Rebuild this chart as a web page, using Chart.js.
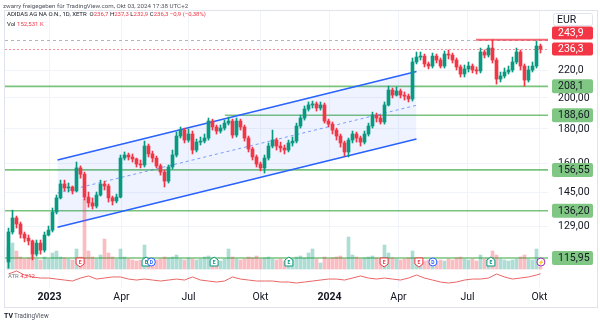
<!DOCTYPE html>
<html>
<head>
<meta charset="utf-8">
<script src="https://cdn.jsdelivr.net/npm/chart.js@4.4.1/dist/chart.umd.min.js"></script>
<style>
  html, body { margin: 0; padding: 0; background: #ffffff; }
  canvas { display: block; }
</style>
</head>
<body>
<canvas id="chart" width="600" height="323"></canvas>
<script>
const FONT = "Roboto, 'Liberation Sans', sans-serif";

// ADIDAS AG, 4-session candles from Nov 2022 to Okt 2024 (EUR)
const firstOpen = 114.4;
const closes = [
  126.7, 132.9, 130.2, 125.8, 124.1, 122.9, 117.5, 122.0, 119.1, 125.4,
  127.5, 135.6, 142.3, 149.2, 147.2, 147.7, 145.7, 157.6, 154.3, 142.7,
  139.9, 138.4, 143.7, 149.2, 148.2, 142.3, 140.8, 142.7, 163.0, 164.7,
  163.6, 162.5, 159.7, 159.2, 169.8, 165.3, 163.0, 158.7, 155.4, 150.7,
  158.1, 164.7, 175.7, 179.3, 173.3, 176.9, 167.5, 172.1, 172.7, 174.5,
  184.9, 181.2, 178.7, 180.5, 183.6, 184.9, 176.3, 184.9, 181.2, 174.5,
  168.1, 163.6, 159.7, 157.6, 163.0, 169.8, 173.3, 169.8, 168.7, 167.5,
  171.6, 172.7, 181.8, 186.8, 192.6, 195.3, 196.0, 193.3, 195.3, 184.9,
  183.0, 179.3, 175.7, 171.6, 166.4, 173.3, 176.9, 174.5, 172.1, 176.9,
  181.8, 188.7, 186.8, 184.3, 195.3, 205.5, 202.0, 204.8, 202.0, 201.3,
  199.3, 226.1, 229.9, 230.7, 224.6, 223.0, 230.7, 227.6, 223.0, 232.3,
  231.5, 227.6, 222.3, 217.0, 220.8, 223.0, 220.0, 219.3, 233.9, 231.5,
  237.1, 227.6, 213.3, 215.6, 218.5, 220.0, 226.1, 233.9, 223.0, 212.6,
  220.0, 223.0, 238.7, 236.3
];
const highs = [
  128.4, 136.5, 133.8, 131.1, 126.7, 125.4, 123.3, 123.3, 123.3, 126.7,
  129.3, 137.5, 143.7, 151.2, 151.2, 149.7, 148.2, 160.8, 158.7, 155.4,
  145.2, 142.3, 145.2, 151.2, 150.7, 149.2, 143.2, 144.2, 164.7, 166.4,
  165.8, 165.3, 163.0, 161.9, 172.7, 171.0, 166.9, 164.1, 159.7, 156.5,
  159.2, 167.5, 178.1, 181.2, 180.5, 179.9, 178.7, 173.9, 175.1, 176.9,
  186.8, 186.1, 182.4, 182.4, 185.5, 187.4, 186.1, 186.8, 186.1, 182.4,
  175.7, 169.2, 164.7, 160.8, 164.7, 171.6, 179.3, 174.5, 172.1, 170.4,
  173.3, 175.1, 183.6, 188.7, 194.6, 197.3, 197.9, 197.3, 197.3, 196.6,
  186.1, 184.3, 180.5, 176.9, 172.7, 174.5, 178.7, 178.1, 175.7, 178.7,
  183.6, 190.6, 190.0, 188.7, 197.3, 208.3, 206.9, 207.6, 206.2, 204.1,
  202.7, 229.2, 233.9, 233.9, 232.3, 226.1, 233.1, 232.3, 229.2, 234.7,
  235.5, 233.1, 229.2, 223.8, 223.8, 226.1, 224.6, 222.3, 237.1, 235.5,
  239.5, 243.9, 229.2, 218.5, 221.5, 223.0, 229.9, 237.1, 235.5, 224.6,
  223.0, 226.1, 242.8, 240.3
];
const lows = [
  112.0, 125.8, 128.4, 124.1, 122.5, 121.2, 115.2, 116.7, 117.5, 118.3,
  125.0, 126.7, 134.7, 141.8, 145.7, 145.2, 144.2, 145.2, 152.2, 141.3,
  137.9, 137.0, 137.5, 143.2, 146.2, 140.3, 138.9, 139.9, 142.3, 161.9,
  161.9, 160.8, 158.1, 157.6, 158.1, 163.6, 160.8, 157.6, 153.8, 147.7,
  149.7, 157.0, 163.6, 174.5, 171.6, 172.1, 165.3, 166.4, 170.4, 171.6,
  173.3, 179.3, 176.9, 177.5, 179.3, 182.4, 174.5, 175.1, 179.3, 172.7,
  166.4, 161.9, 158.1, 156.0, 154.9, 161.9, 168.7, 167.5, 166.4, 165.3,
  166.4, 169.8, 171.6, 180.5, 185.5, 191.3, 193.3, 191.3, 191.9, 183.6,
  181.2, 176.9, 173.3, 169.2, 164.1, 163.6, 171.6, 172.1, 169.8, 171.0,
  175.7, 180.5, 184.3, 183.0, 183.0, 194.6, 200.0, 201.3, 200.0, 198.6,
  197.3, 197.9, 224.6, 227.6, 222.3, 220.8, 221.5, 225.3, 221.5, 221.5,
  228.4, 225.3, 220.0, 214.8, 214.8, 218.5, 217.8, 217.0, 217.8, 229.2,
  229.9, 225.3, 209.7, 211.2, 214.1, 217.0, 218.5, 224.6, 220.0, 208.3,
  211.2, 218.5, 221.5, 233.1
];
// average daily volume per candle, thousand shares
const volumes = [
  1540, 1820, 1260, 840, 700, 770, 980, 700, 630, 840,
  700, 1120, 1260, 840, 770, 700, 630, 1400, 840, 4900,
  1260, 840, 700, 980, 2100, 1120, 840, 700, 1400, 840,
  700, 630, 560, 630, 1680, 770, 700, 630, 700, 840,
  770, 840, 980, 700, 630, 770, 700, 630, 700, 840,
  910, 700, 630, 560, 700, 1400, 840, 700, 630, 700,
  840, 770, 910, 700, 770, 840, 700, 630, 700, 560,
  630, 700, 840, 910, 770, 1120, 1400, 700, 420, 840,
  700, 770, 840, 910, 700, 2240, 980, 840, 700, 770,
  840, 910, 770, 700, 1680, 1120, 770, 700, 630, 700,
  770, 1260, 700, 630, 560, 630, 700, 560, 630, 560,
  700, 630, 770, 840, 700, 630, 700, 560, 980, 700,
  770, 1260, 980, 700, 630, 560, 630, 700, 840, 980,
  700, 630, 1400, 153
];
// ATR(14), one reading every second candle, plus the last one
const atrValues = [
  4.19, 4.55, 4.07, 3.83, 3.70, 3.70, 3.58, 3.46, 3.34, 3.70,
  3.95, 3.58, 3.70, 3.83, 3.83, 3.58, 3.46, 3.58, 3.46, 3.34,
  3.46, 3.58, 3.46, 3.83, 3.46, 3.34, 3.22, 3.34, 3.83, 3.58,
  3.46, 3.34, 3.34, 3.34, 3.22, 3.22, 3.10, 3.22, 3.34, 3.46,
  3.58, 3.58, 3.46, 3.70, 3.95, 3.70, 3.58, 3.70, 3.58, 3.46,
  3.70, 4.07, 3.70, 3.46, 3.22, 3.10, 3.22, 3.46, 3.58, 3.58,
  3.70, 4.19, 3.83, 3.58, 3.70, 3.83, 4.07
];
const atrLast = 4.212;

const timeTicks = [10.25, 28.25, 45, 63, 80.25, 97.5, 114.75, 132.75];
const timeLabels = ["2023", "Apr", "Jul", "Okt", "2024", "Apr", "Jul", "Okt"];
const priceTicks = [220, 200, 180, 160, 145, 129];
const priceLabels = ["220,0", "200,00", "180,00", "160,00", "145,00", "129,00"];

// horizontal support levels (candle index where each one starts)
const supportLevels = [208.1, 188.6, 156.55, 136.2, 115.95];
const supportLabels = ["208,1", "188,60", "156,55", "136,20", "115,95"];
const supportStart = [-0.9, 54.1, -0.9, -0.9, -0.9];
const resistance = 243.9;
const resistanceStart = 116.9;
const lastPrice = 236.3;

// parallel channel anchors
const channelX = [12.25, 102];
const channelUpper = [161.9, 218.9];
const channelMid = [144.7, 195.1];
const channelLower = [128.8, 173.9];

// earnings / dividend / split markers
const eventIdx = [17.9, 34.4, 35.7, 51.4, 70.1, 93.9, 102.6, 106.1, 120.6, 133.1];
const eventKind = ["E-", "E+", "D", "E+", "E+", "E-", "E-", "D", "E+", "S"];

const UP = "#089981";
const DOWN = "#f23645";
const GREEN_LEVEL = "rgba(76, 175, 80, 0.75)";

const opens = [firstOpen].concat(closes.slice(0, -1));
const isUp = closes.map((c, i) => c >= opens[i]);
const candleColors = isUp.map(u => u ? UP : DOWN);
const volumeColors = isUp.map(u => u ? "rgba(8, 153, 129, 0.33)" : "rgba(242, 54, 69, 0.33)");

function hline(ctx, y, x0, x1, color, width, dash) {
  ctx.save();
  ctx.strokeStyle = color;
  ctx.lineWidth = width;
  ctx.setLineDash(dash);
  ctx.beginPath();
  ctx.moveTo(x0, y);
  ctx.lineTo(x1, y);
  ctx.stroke();
  ctx.restore();
}

function roundRect(ctx, x, y, w, h, r) {
  ctx.beginPath();
  ctx.moveTo(x + r, y);
  ctx.lineTo(x + w - r, y);
  ctx.quadraticCurveTo(x + w, y, x + w, y + r);
  ctx.lineTo(x + w, y + h - r);
  ctx.quadraticCurveTo(x + w, y + h, x + w - r, y + h);
  ctx.lineTo(x + r, y + h);
  ctx.quadraticCurveTo(x, y + h, x, y + h - r);
  ctx.lineTo(x, y + r);
  ctx.quadraticCurveTo(x, y, x + r, y);
  ctx.closePath();
}

function drawSegments(ctx, x, y, parts, font) {
  ctx.font = font;
  ctx.textBaseline = "middle";
  ctx.textAlign = "left";
  parts.forEach(([text, color]) => {
    ctx.fillStyle = color;
    ctx.fillText(text, x, y);
    x += ctx.measureText(text).width;
  });
}

// keep the plot area exactly where the layout padding puts it
function noScalePadding(s) {
  s.paddingTop = 0;
  s.paddingBottom = 0;
  s.paddingLeft = 0;
  s.paddingRight = 0;
}

const levelsPlugin = {
  id: "levels",
  beforeDatasetsDraw(chart) {
    const { ctx, chartArea: a, scales: { x, y } } = chart;
    ctx.save();
    ctx.beginPath();
    ctx.rect(a.left, a.top, a.right - a.left, a.bottom - a.top);
    ctx.clip();
    hline(ctx, Math.round(y.getPixelForValue(resistance)) + 0.5, a.left, a.right, "#b2b5be", 1, [3, 3]);
    hline(ctx, Math.round(y.getPixelForValue(lastPrice)) + 0.5, a.left, a.right, "rgba(242, 54, 69, 0.55)", 1, [2, 2]);
    supportLevels.forEach((p, i) => {
      hline(ctx, y.getPixelForValue(p), x.getPixelForValue(supportStart[i]), a.right, GREEN_LEVEL, 1.6, []);
    });
    hline(ctx, y.getPixelForValue(resistance), x.getPixelForValue(resistanceStart), a.right, "rgba(242, 54, 69, 0.75)", 2, []);
    ctx.restore();
  }
};

const overlayPlugin = {
  id: "overlay",
  afterDatasetsDraw(chart) {
    const { ctx, scales: { x } } = chart;
    const cy = 262;
    eventIdx.forEach((v, i) => {
      const cx = x.getPixelForValue(v);
      const kind = eventKind[i];
      ctx.save();
      ctx.lineWidth = 1;
      ctx.fillStyle = "#ffffff";
      if (kind === "D" || kind === "S") {
        const col = kind === "D" ? "#2962ff" : "#9c27b0";
        ctx.strokeStyle = col;
        ctx.beginPath();
        ctx.arc(cx, cy, 4, 0, Math.PI * 2);
        ctx.fill();
        ctx.stroke();
        ctx.fillStyle = col;
        ctx.font = "bold 5px " + FONT;
        ctx.textAlign = "center";
        ctx.textBaseline = "middle";
        ctx.fillText(kind === "D" ? "D" : "⚡", cx, cy + 0.5);
      } else {
        const col = kind === "E+" ? UP : DOWN;
        ctx.strokeStyle = col;
        ctx.beginPath();
        if (kind === "E+") {
          ctx.moveTo(cx, cy - 5);
          ctx.lineTo(cx + 4, cy - 2);
          ctx.lineTo(cx + 4, cy + 4);
          ctx.lineTo(cx - 4, cy + 4);
          ctx.lineTo(cx - 4, cy - 2);
        } else {
          ctx.moveTo(cx - 4, cy - 4);
          ctx.lineTo(cx + 4, cy - 4);
          ctx.lineTo(cx + 4, cy + 2);
          ctx.lineTo(cx, cy + 5);
          ctx.lineTo(cx - 4, cy + 2);
        }
        ctx.closePath();
        ctx.fill();
        ctx.stroke();
        ctx.fillStyle = col;
        ctx.font = "bold 5px " + FONT;
        ctx.textAlign = "center";
        ctx.textBaseline = "middle";
        ctx.fillText("E", cx, cy + 0.5);
      }
      ctx.restore();
    });

    // ATR legend
    drawSegments(ctx, 8, 276, [["ATR ", "#787b86"], ["4,212", DOWN]], "6px " + FONT);
  },
  afterDraw(chart) {
    const { ctx, scales: { y } } = chart;
    ctx.save();

    // frame
    ctx.strokeStyle = "#e0e3eb";
    ctx.lineWidth = 1;
    ctx.strokeRect(4.5, 10.5, 593, 297);

    // header
    drawSegments(ctx, 3, 6, [["zwarry freigegeben für TradingView.com, Okt 03, 2024 17:38 UTC+2", "#50535e"]], "6.2px " + FONT);
    drawSegments(ctx, 7, 14, [
      ["ADIDAS AG NA O.N., 1D, XETR  ", "#131722"], ["O", "#131722"], ["236,7", DOWN],
      [" H", "#131722"], ["237,3", DOWN], [" L", "#131722"], ["232,9", DOWN],
      [" C", "#131722"], ["236,3", DOWN], [" \u22120,9 (\u22120,38%)", DOWN]
    ], "6px " + FONT);
    drawSegments(ctx, 7, 24, [["Vol ", "#131722"], ["152,531 K", DOWN]], "6px " + FONT);

    // price axis labels
    const bx = 552, bw = 41, bh = 14;
    ctx.font = "10.5px " + FONT;
    ctx.textBaseline = "middle";
    ctx.textAlign = "left";
    supportLevels.forEach((p, i) => {
      const cy = y.getPixelForValue(p);
      ctx.fillStyle = "#81c784";
      roundRect(ctx, bx, cy - bh / 2, bw, bh, 2);
      ctx.fill();
      ctx.fillStyle = "#131722";
      ctx.fillText(supportLabels[i], 558, cy + 0.5);
    });
    const lastY = y.getPixelForValue(lastPrice);
    let resY = y.getPixelForValue(resistance);
    if (resY > lastY - 16) resY = lastY - 16;
    [[resY, "243,9"], [lastY, "236,3"]].forEach(([cy, t]) => {
      ctx.fillStyle = DOWN;
      roundRect(ctx, bx, cy - bh / 2 + 0.5, bw, bh - 1, 2);
      ctx.fill();
      ctx.fillStyle = "#ffffff";
      ctx.fillText(t, 558, cy + 0.5);
    });

    // currency box
    ctx.fillStyle = "#ffffff";
    ctx.strokeStyle = "#e0e3eb";
    roundRect(ctx, 553.5, 13.5, 39, 12, 2);
    ctx.fill();
    ctx.stroke();
    ctx.fillStyle = "#131722";
    ctx.fillText("EUR", 557, 20);

    // footer logo
    ctx.fillStyle = "#131722";
    ctx.font = "bold 7px " + FONT;
    ctx.fillText("TV", 4, 316);
    ctx.fillStyle = "#50535e";
    ctx.font = "6.3px " + FONT;
    ctx.fillText("TradingView", 14, 316);
    ctx.restore();
  }
};

const ctx = document.getElementById("chart").getContext("2d");
new Chart(ctx, {
  type: "bar",
  data: {
    datasets: [
      {
        type: "bar",
        label: "Körper",
        data: closes.map((c, i) => ({ x: i, y: [opens[i], c] })),
        backgroundColor: candleColors,
        barThickness: 3,
        minBarLength: 1,
        grouped: false,
        yAxisID: "y",
        order: 0
      },
      {
        type: "bar",
        label: "Dochte",
        data: highs.map((h, i) => ({ x: i, y: [lows[i], h] })),
        backgroundColor: candleColors,
        barThickness: 1,
        grouped: false,
        yAxisID: "y",
        order: 1
      },
      {
        type: "line",
        label: "ATR",
        data: atrValues.map((v, j) => ({ x: 2 * j, y: v })).concat([{ x: closes.length - 1, y: atrLast }]),
        borderColor: "rgba(229, 75, 75, 0.85)",
        borderWidth: 1,
        pointRadius: 0,
        tension: 0,
        yAxisID: "atr",
        order: 2
      },
      {
        type: "bar",
        label: "Vol",
        data: volumes.map((v, i) => ({ x: i, y: v })),
        backgroundColor: volumeColors,
        barThickness: 3,
        grouped: false,
        yAxisID: "vol",
        order: 3
      },
      {
        type: "line",
        label: "Kanal oben",
        data: channelX.map((v, i) => ({ x: v, y: channelUpper[i] })),
        borderColor: "#2962ff",
        borderWidth: 1.5,
        pointRadius: 0,
        fill: "+1",
        backgroundColor: "rgba(41, 98, 255, 0.08)",
        yAxisID: "y",
        order: 4
      },
      {
        type: "line",
        label: "Kanal unten",
        data: channelX.map((v, i) => ({ x: v, y: channelLower[i] })),
        borderColor: "#2962ff",
        borderWidth: 1.5,
        pointRadius: 0,
        fill: false,
        yAxisID: "y",
        order: 4
      },
      {
        type: "line",
        label: "Kanal Mitte",
        data: channelX.map((v, i) => ({ x: v, y: channelMid[i] })),
        borderColor: "rgba(41, 98, 255, 0.6)",
        borderWidth: 1,
        borderDash: [3, 3],
        pointRadius: 0,
        fill: false,
        yAxisID: "y",
        order: 4
      }
    ]
  },
  options: {
    responsive: false,
    devicePixelRatio: 1,
    animation: false,
    layout: { padding: { left: 5, top: 10, right: 3, bottom: 16 } },
    plugins: {
      legend: { display: false },
      tooltip: { enabled: false }
    },
    scales: {
      x: {
        type: "linear",
        offset: false,
        bounds: "data",
        min: -0.875,
        max: 134.875,
        afterBuildTicks: s => { s.ticks = timeTicks.map(v => ({ value: v })); },
        afterFit: s => { s.height = 19; noScalePadding(s); },
        grid: { color: "#f0f3fa", drawTicks: false, offset: false },
        border: { display: false },
        ticks: {
          autoSkip: false,
          maxRotation: 0,
          padding: 3,
          color: "#131722",
          font: c => ({ family: FONT, size: 10.5, weight: /^\d/.test(timeLabels[c.index] || "") ? "bold" : "normal" }),
          callback: (v, i) => timeLabels[i]
        }
      },
      y: {
        type: "logarithmic",
        position: "right",
        bounds: "data",
        min: 104.7,
        max: 269.9,
        afterBuildTicks: s => { s.ticks = priceTicks.map(v => ({ value: v })); },
        afterFit: s => { s.width = 49; noScalePadding(s); },
        grid: { color: "#f0f3fa", drawTicks: false },
        border: { display: false },
        ticks: {
          autoSkip: false,
          padding: 10,
          color: "#131722",
          font: { family: FONT, size: 10.5 },
          callback: (v, i) => priceLabels[i]
        }
      },
      vol: { type: "linear", display: false, min: -1330, max: 18130 },
      atr: { type: "linear", display: false, min: 2.5, max: 36 }
    }
  },
  plugins: [levelsPlugin, overlayPlugin]
});
</script>
</body>
</html>
